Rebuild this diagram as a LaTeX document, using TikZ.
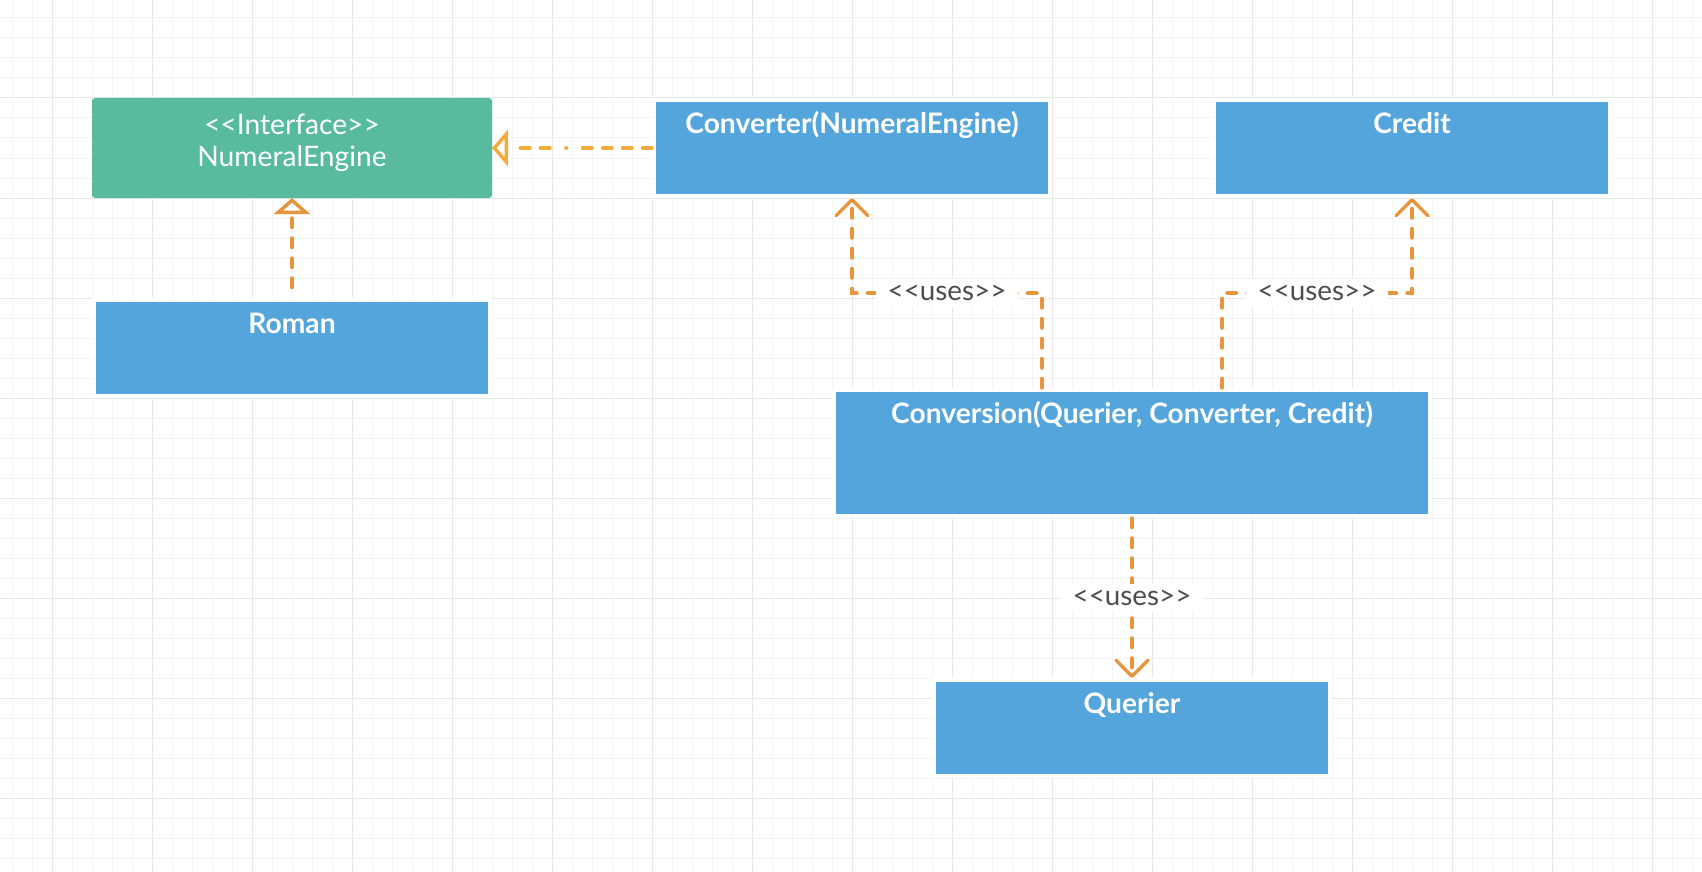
\documentclass[tikz,border=0pt]{standalone}
\usepackage{fontspec}
\newfontfamily\lato{Lato}
\usetikzlibrary{arrows.meta}
\definecolor{gminor}{RGB}{243,243,243}
\definecolor{gmajor}{RGB}{232,232,232}
\definecolor{cblue}{RGB}{84,165,219}
\definecolor{cgreen}{RGB}{88,187,158}
\definecolor{corange}{RGB}{232,149,62}
\definecolor{cyellow}{RGB}{245,170,57}
\definecolor{cgray}{RGB}{77,77,77}
\tikzset{
  box/.style={draw=white, line width=2pt, fill=cblue, minimum width=198pt, minimum height=48pt, inner sep=0pt},
  iface/.style={fill=cgreen, minimum width=200pt, minimum height=50pt, inner sep=0pt, outer sep=0pt, rounded corners=1.5pt},
  title/.style={font=\lato\bfseries\fontsize{14.1pt}{16pt}\selectfont, text=white, inner sep=0pt, anchor=base},
  ititle/.style={font=\lato\fontsize{14.1pt}{16pt}\selectfont, text=white, inner sep=0pt, anchor=base},
  link/.style={line width=1.75pt, line cap=round, dash pattern=on 4.75pt off 5.25pt},
  uses/.style={link, draw=corange, -{Straight Barb[length=8pt,width=16pt,line cap=round,line join=round]}},
  realize/.style={link, draw=corange, -{Triangle[open,length=8pt,width=18pt]}},
  lbl/.style={font=\lato\fontsize{13.9pt}{16pt}\selectfont, text=cgray, fill=white, inner xsep=6pt, inner ysep=3pt}
}
\begin{document}
\begin{tikzpicture}[x=0.5pt,y=-0.5pt]
\useasboundingbox (0,0) rectangle (1702,872);
\fill[white] (0,0) rectangle (1702,872);
% grid
\foreach \x in {12,32,...,1692} \draw[gminor, line width=0.5pt] (\x,0) -- (\x,872);
\foreach \y in {18,38,...,858} \draw[gminor, line width=0.5pt] (0,\y) -- (1702,\y);
\foreach \x in {52,152,...,1652} \draw[gmajor, line width=0.5pt] (\x,0) -- (\x,872);
\foreach \y in {98,198,...,798} \draw[gmajor, line width=0.5pt] (0,\y) -- (1702,\y);
% boxes
\node[iface] (numeral) at (292,148) {};
\node[ititle] (numt1) at ([yshift=-18.3pt]numeral.north) {<<Interface>>};
\node[ititle] (numt2) at ([yshift=-34.3pt]numeral.north) {NumeralEngine};
\node[box] (roman) at (292,348) {};
\node[title] (romant) at ([yshift=-17.75pt]roman.north) {Roman};
\node[box] (converter) at (852,148) {};
\node[title] (convt) at ([yshift=-17.9pt]converter.north) {Converter(NumeralEngine)};
\node[box] (credit) at (1412,148) {};
\node[title] (credt) at ([yshift=-17.9pt]credit.north) {Credit};
\node[box, minimum width=298pt, minimum height=63pt] (conversion) at (1132,453) {};
\node[title] (conversiont) at ([yshift=-17.75pt]conversion.north) {Conversion(Querier, Converter, Credit)};
\node[box] (querier) at (1132,728) {};
\node[title] (queriert) at ([yshift=-17.75pt]querier.north) {Querier};
% connectors
\draw[realize, draw=cyellow, dash pattern=on 4.75pt off 5.25pt on 4.75pt off 5.25pt on 4.75pt off 5.25pt on 4.75pt off 8pt on 0.3pt off 8pt on 4.75pt off 5.25pt on 4.75pt off 20pt] (converter.west) -- (numeral.east);
\draw[realize, dash phase=4.75pt] (roman.north) -- (numeral.south);
\draw[uses] ([xshift=-45pt]conversion.north) -- ++(0,-95) -| node[lbl, pos=0.25] (l1) {<<uses>>} (converter.south);
\draw[uses] ([xshift=45pt]conversion.north) -- ++(0,-95) -| node[lbl, pos=0.25] (l2) {<<uses>>} (credit.south);
\draw[uses] (conversion.south) -- node[lbl] (l3) {<<uses>>} (querier.north);
\end{tikzpicture}
\end{document}
